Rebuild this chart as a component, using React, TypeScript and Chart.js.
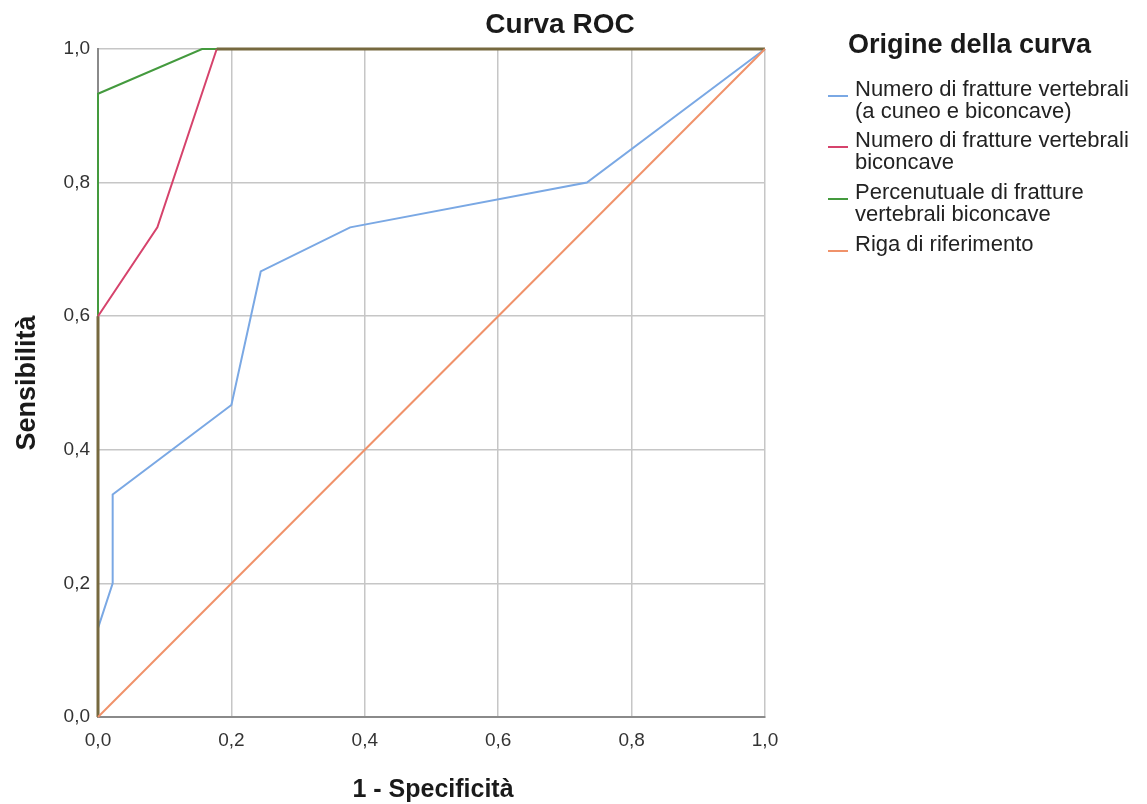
import React, { useEffect, useRef } from "react";
import { Chart, registerables } from "chart.js";

Chart.register(...registerables);

// ---- Text ----
const chartTitle = "Curva ROC";
const xAxisTitle = "1 - Specificità";
const yAxisTitle = "Sensibilità";
const legendTitle = "Origine della curva";

// ---- Ticks ----
const tickValues = [0, 0.2, 0.4, 0.6, 0.8, 1.0];

// ---- Series names (legend lines) ----
const seriesNames: string[][] = [
  ["Numero di fratture vertebrali", "(a cuneo e biconcave)"],
  ["Numero di fratture vertebrali", "biconcave"],
  ["Percenutuale di fratture", "vertebrali biconcave"],
  ["Riga di riferimento"],
];

// ---- Series values: x = 1 - Specificità, y = Sensibilità ----
const cuneoBiconcaveX = [0, 0, 0.022, 0.022, 0.2, 0.244, 0.378, 0.733, 1];
const cuneoBiconcaveY = [0, 0.133, 0.2, 0.333, 0.467, 0.667, 0.733, 0.8, 1];

const biconcaveX = [0, 0, 0.089, 0.178, 1];
const biconcaveY = [0, 0.6, 0.733, 1, 1];

const percentualeX = [0, 0, 0.156, 1];
const percentualeY = [0, 0.933, 1, 1];

const riferimentoX = [0, 1];
const riferimentoY = [0, 1];

const seriesColors = ["#7aa8e4", "#d6436c", "#449a3e", "#f0926a"];
// colour where curves coincide along the plot frame
const overlapColor = "#76693f";
// drawing order (lower = on top)
const seriesOrder = [3, 1, 2, 0];

const FONT = "'Liberation Sans', Arial, Helvetica, sans-serif";

function toPoints(xs: number[], ys: number[]) {
  return xs.map((x, i) => ({ x, y: ys[i] }));
}

const fmt = (v: number) => v.toFixed(1).replace(".", ",");

const onFrame = (ctx: any) => {
  const a = ctx.p0.parsed;
  const b = ctx.p1.parsed;
  return (a.x === 0 && b.x === 0) || (a.y === 1 && b.y === 1);
};

export default function App() {
  const canvasRef = useRef<HTMLCanvasElement | null>(null);

  useEffect(() => {
    if (!canvasRef.current) return;
    const seriesData = [
      toPoints(cuneoBiconcaveX, cuneoBiconcaveY),
      toPoints(biconcaveX, biconcaveY),
      toPoints(percentualeX, percentualeY),
      toPoints(riferimentoX, riferimentoY),
    ];
    const chart = new Chart(canvasRef.current, {
      type: "line",
      data: {
        datasets: seriesData.map((d, i) => ({
          label: seriesNames[i].join(" "),
          data: d,
          borderColor: seriesColors[i],
          backgroundColor: seriesColors[i],
          borderWidth: i === 1 ? 2.5 : 2,
          pointRadius: 0,
          tension: 0,
          fill: false,
          clip: false,
          order: seriesOrder[i],
          segment:
            i === 1
              ? {
                  borderColor: (ctx: any) => (onFrame(ctx) ? overlapColor : seriesColors[i]),
                  borderWidth: (ctx: any) => (onFrame(ctx) ? 3 : 2),
                }
              : undefined,
        })),
      },
      options: {
        animation: false,
        responsive: false,
        maintainAspectRatio: false,
        layout: { padding: { left: 0, top: 49, right: 382, bottom: 0 } },
        plugins: {
          legend: { display: false },
          title: { display: false },
          tooltip: { enabled: false },
        },
        scales: {
          x: {
            type: "linear",
            min: 0,
            max: 1,
            afterBuildTicks: (scale: any) => {
              scale.ticks = tickValues.map((v) => ({ value: v }));
            },
            afterFit: (scale: any) => {
              scale.height = 87;
            },
            ticks: {
              padding: 12,
              color: "#333333",
              font: { family: FONT, size: 19 },
              callback: (v: any) => fmt(Number(v)),
              maxRotation: 0,
            },
            grid: {
              color: "#c6c6c6",
              lineWidth: 1.5,
              drawTicks: false,
            },
            border: { color: "#8a8a8a", width: 2 },
          },
          y: {
            type: "linear",
            min: 0,
            max: 1,
            afterBuildTicks: (scale: any) => {
              scale.ticks = tickValues.map((v) => ({ value: v }));
            },
            afterFit: (scale: any) => {
              scale.width = 98;
            },
            ticks: {
              padding: 8,
              color: "#333333",
              font: { family: FONT, size: 19 },
              callback: (v: any) => fmt(Number(v)),
            },
            grid: {
              color: "#c6c6c6",
              lineWidth: 1.5,
              drawTicks: false,
            },
            border: { color: "#8a8a8a", width: 2 },
          },
        },
      },
    } as any);
    return () => chart.destroy();
  }, []);

  const legendCenters = [89, 140, 192, 244];

  return (
    <div
      style={{
        position: "fixed",
        left: 0,
        top: 0,
        width: 1147,
        height: 804,
        background: "#ffffff",
        fontFamily: FONT,
        color: "#1a1a1a",
      }}
    >
      <canvas
        ref={canvasRef}
        width={1147}
        height={804}
        style={{ position: "absolute", left: 0, top: 0, width: 1147, height: 804 }}
      />
      <div
        style={{
          position: "absolute",
          left: 360,
          width: 400,
          top: 10,
          textAlign: "center",
          fontSize: 28,
          lineHeight: "28px",
          fontWeight: "bold",
        }}
      >
        {chartTitle}
      </div>
      <div
        style={{
          position: "absolute",
          left: 233,
          width: 400,
          top: 776,
          textAlign: "center",
          fontSize: 25,
          lineHeight: "25px",
          fontWeight: "bold",
        }}
      >
        {xAxisTitle}
      </div>
      <div
        style={{
          position: "absolute",
          left: 27 - 150,
          top: 383 - 14,
          width: 300,
          textAlign: "center",
          fontSize: 27,
          lineHeight: "27px",
          fontWeight: "bold",
          transform: "rotate(-90deg)",
          transformOrigin: "150px 14px",
        }}
      >
        {yAxisTitle}
      </div>
      <div
        style={{
          position: "absolute",
          left: 848,
          top: 31,
          fontSize: 27,
          lineHeight: "27px",
          fontWeight: "bold",
          whiteSpace: "nowrap",
        }}
      >
        {legendTitle}
      </div>
      {seriesNames.map((lines, i) => (
        <div key={i}>
          <div
            style={{
              position: "absolute",
              left: 828,
              top: legendCenters[i] + 6,
              width: 20,
              height: 2,
              background: seriesColors[i],
            }}
          />
          <div
            style={{
              position: "absolute",
              left: 855,
              top: legendCenters[i] - 11,
              fontSize: 22,
              lineHeight: "22px",
              whiteSpace: "nowrap",
              color: "#222222",
            }}
          >
            {lines.map((l, j) => (
              <div key={j}>{l}</div>
            ))}
          </div>
        </div>
      ))}
    </div>
  );
}
